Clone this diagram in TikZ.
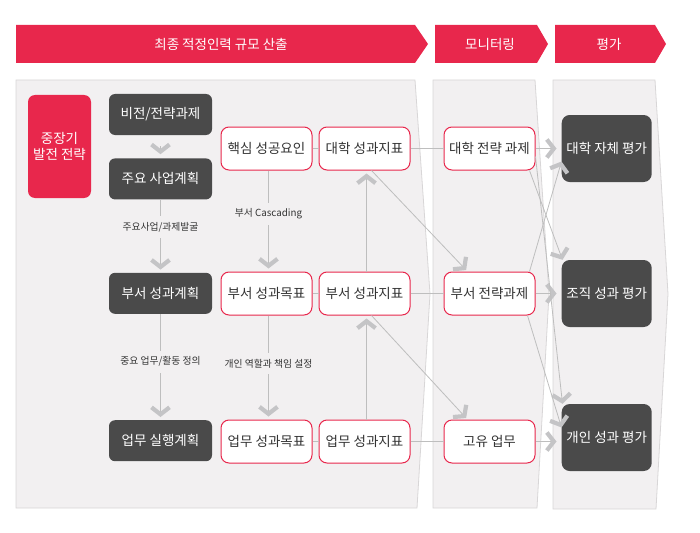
\documentclass[tikz,border=0pt]{standalone}
\usepackage{fontspec}
\setmainfont{Noto Sans CJK KR}
\usetikzlibrary{arrows.meta, positioning}

\definecolor{hdred}{RGB}{232,39,76}
\definecolor{boxdark}{RGB}{74,74,74}
\definecolor{panelbg}{RGB}{242,240,241}
\definecolor{panelline}{RGB}{216,214,215}
\definecolor{linegray}{RGB}{190,190,190}
\definecolor{chevgray}{RGB}{196,196,198}
\definecolor{txtdark}{RGB}{51,51,51}

\begin{document}
\begin{tikzpicture}[
  x=1pt, y=-1pt,
  font=\fontsize{13.5}{16}\selectfont,
  panel/.style={fill=panelbg, draw=panelline, line width=0.8pt},
  banner/.style={fill=hdred},
  bantext/.style={text=white, inner sep=0pt},
  darkbox/.style={fill=boxdark, text=white, rounded corners=6pt, minimum width=103pt, minimum height=41pt, inner sep=0pt, align=center},
  redbox/.style={fill=white, draw=hdred, line width=1pt, text=txtdark, rounded corners=8pt, minimum width=91pt, minimum height=43pt, inner sep=0pt},
  evalbox/.style={fill=boxdark, text=white, rounded corners=8pt, minimum width=90pt, minimum height=67pt, inner sep=0pt},
  lbl/.style={fill=panelbg, text=txtdark, font=\fontsize{9.8}{12}\selectfont, inner xsep=2pt, inner ysep=6pt},
  link/.style={draw=linegray, line width=0.8pt},
  chev/.style={link, -{Straight Barb[length=7pt, width=18pt, line width=4.2pt, color=chevgray]}},
]
  \useasboundingbox (0,0) rectangle (700,532);

  % header bars
  \fill[banner] (16,25) -- (415,25) -- (428,44) -- (415,63) -- (16,63) -- cycle;
  \fill[banner] (435,25) -- (537,25) -- (548,44) -- (537,63) -- (435,63) -- cycle;
  \fill[banner] (555,25) -- (655,25) -- (666,44) -- (655,63) -- (555,63) -- cycle;
  \node[bantext] (hdcalc) at (221,44) {최종 적정인력 규모 산출};
  \node[bantext] (hdmon) at (490,44) {모니터링};
  \node[bantext] (hdeval) at (609,44) {평가};

  % panels
  \draw[panel] (16,80) -- (415,80) -- (430,294) -- (417,508) -- (16,508) -- cycle;
  \draw[panel] (433,80) -- (535,80) -- (549,294) -- (537,508) -- (433,508) -- cycle;
  \draw[panel] (553,80) -- (655,80) -- (668,294) -- (656,509) -- (553,509) -- cycle;

  % left column
  \node[fill=hdred, text=white, rounded corners=7pt, minimum width=63pt, minimum height=103pt, inner sep=0pt, align=center] (strat) at (59.5,146.5) {중장기\\발전 전략};
  \node[darkbox] (vision) at (160.5,114.5) {비전/전략과제};
  \node[darkbox, below=23pt of vision] (major) {주요 사업계획};
  \node[darkbox, below=73pt of major] (deptPlan) {부서 성과계획};
  \node[darkbox, below=106pt of deptPlan] (workPlan) {업무 실행계획};

  % goals and KPIs
  \node[redbox] (csf) at (266.5,148.5) {핵심 성공요인};
  \node[redbox, below=101pt of csf] (deptGoal) {부서 성과목표};
  \node[redbox, below=104pt of deptGoal] (workGoal) {업무 성과목표};
  \node[redbox, right=6pt of csf] (uKPI) {대학 성과지표};
  \node[redbox, right=6pt of deptGoal] (dKPI) {부서 성과지표};
  \node[redbox, right=6pt of workGoal] (wKPI) {업무 성과지표};

  % monitoring
  \node[redbox, right=33pt of uKPI] (uTask) {대학 전략 과제};
  \node[redbox, right=33pt of dKPI] (deptTask) {부서 전략과제};
  \node[redbox, right=33pt of wKPI] (ownWork) {고유 업무};

  % evaluation
  \node[evalbox, right=26pt of uTask] (univEval) {대학 자체 평가};
  \node[evalbox, right=26pt of deptTask] (orgEval) {조직 성과 평가};
  \node[evalbox, right=26pt of ownWork, yshift=4pt] (indEval) {개인 성과 평가};

  % left column flow
  \draw[chev, shorten <=11pt, shorten >=4pt] (vision) -- (major);
  \draw[chev, shorten >=3pt] (major) -- node[lbl, pos=0.38] {주요사업/과제발굴} (deptPlan);
  \draw[chev, shorten >=3pt] (deptPlan) -- node[lbl, pos=0.45] {중요 업무/활동 정의} (workPlan);

  % cascading
  \draw[chev, shorten >=3pt] ([xshift=2pt]csf.south) -- node[lbl, pos=0.43] {부서 Cascading} ([xshift=2pt]deptGoal.north);
  \draw[chev, shorten >=3pt] ([xshift=2pt]deptGoal.south) -- node[lbl, pos=0.46] {개인 역할과 책임 설정} ([xshift=2pt]workGoal.north);

  \draw[link] (csf) -- (uKPI);
  \draw[link] (deptGoal) -- (dKPI);
  \draw[link] (workGoal) -- (wKPI);
  \draw[chev, shorten >=3pt] ([xshift=2pt]dKPI.north) -- ([xshift=2pt]uKPI.south);
  \draw[chev, shorten >=3pt] ([xshift=2pt]wKPI.north) -- ([xshift=2pt]dKPI.south);
  \draw[chev, shorten >=2pt] ([xshift=7pt]uKPI.south) -- ([xshift=-22pt]deptTask.north);
  \draw[chev, shorten >=2pt] ([xshift=7pt]dKPI.south) -- ([xshift=-22pt]ownWork.north);

  % monitoring to evaluation
  \draw[link] (uKPI) -- (uTask);
  \draw[link] (dKPI) -- (deptTask);
  \draw[link] (wKPI) -- (ownWork);
  \draw[chev, shorten >=5pt] (uTask) -- (univEval);
  \draw[chev, shorten >=5pt] (deptTask) -- (orgEval);
  \draw[chev, shorten >=5pt] (ownWork.east) -- (ownWork.east -| indEval.west);
  \draw[chev] ([xshift=-6pt]uTask.south east) -- ([xshift=1pt]orgEval.north west);
  \draw[chev] ([yshift=-8pt]uTask.east) -- ([xshift=1pt]indEval.north west);
  \draw[chev] ([xshift=-6pt]deptTask.north east) -- ([yshift=-13pt]univEval.west);
  \draw[chev] ([xshift=-8pt]deptTask.south east) -- ([yshift=10pt]indEval.west);
\end{tikzpicture}
\end{document}
